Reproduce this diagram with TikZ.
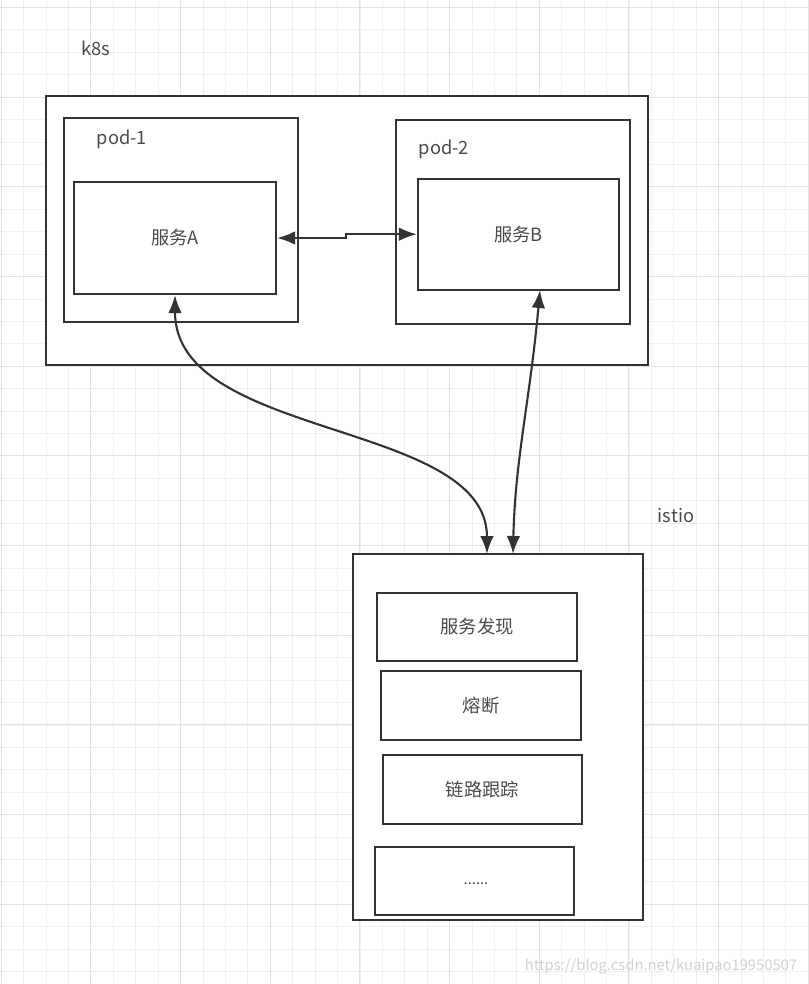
\documentclass[tikz,border=0pt]{standalone}
\usepackage{fontspec}
\setmainfont{Noto Sans CJK SC}
\usepackage{xcolor}
\usetikzlibrary{arrows.meta}

\definecolor{lineGray}{HTML}{333333}
\definecolor{textGray}{HTML}{4A4A4A}
\definecolor{gridMinor}{HTML}{F0F0F0}
\definecolor{gridMajor}{HTML}{E2E2E2}
\definecolor{markGray}{HTML}{D2D2D2}

\begin{document}
\begin{tikzpicture}[x=0.025cm, y=-0.025cm]
    	\tikzstyle{box}=[rectangle, draw=lineGray, line width=1.5pt, fill=white, inner sep=0pt]
    	\tikzstyle{label}=[text=textGray, font=\fontsize{13}{15}\selectfont]
    	\tikzstyle{link}=[draw=lineGray, line width=1.5pt, {Latex[length=4.5mm,width=3.4mm]}-{Latex[length=4.5mm,width=3.4mm]}]

    	\useasboundingbox (0,0) rectangle (808,984);
    	\fill[white] (0,0) rectangle (808,984);

    	% Grid
    	\foreach \i in {0,...,36}
    		\draw[gridMinor, line width=0.6pt] (1.2+\i*22.42, 0) -- (1.2+\i*22.42, 984);
    	\foreach \i in {0,...,44}
    		\draw[gridMinor, line width=0.6pt] (0, 7.5+\i*22.42) -- (808, 7.5+\i*22.42);
    	\foreach \i in {0,...,9}
    		\draw[gridMajor, line width=0.7pt] (1.2+\i*89.68, 0) -- (1.2+\i*89.68, 984);
    	\foreach \i in {0,...,10}
    		\draw[gridMajor, line width=0.7pt] (0, 7.5+\i*89.68) -- (808, 7.5+\i*89.68);

    	% k8s
    	\node[label] at (96, 48) (k8s_label) {k8s};
    	\node[box, minimum width=15.05cm, minimum height=6.725cm] at (347, 230.5) (k8s) {};

    	% pod 1
    	\node[box, minimum width=5.85cm, minimum height=5.1cm] at (181, 220) (pod_1) {};
    	\node[label] at (122, 139) (pod_1_label) {pod-1};
    	\node[box, label, minimum width=5.05cm, minimum height=2.8cm] at (175, 238) (service_a) {服务A};

    	% pod 2
    	\node[box, minimum width=5.85cm, minimum height=5.1cm] at (513, 222) (pod_2) {};
    	\node[label] at (444, 149) (pod_2_label) {pod-2};
    	\node[box, label, minimum width=5.025cm, minimum height=2.775cm] at (518.5, 234.5) (service_b) {服务B};

    	% istio
    	\node[label] at (676, 516) (istio_label) {istio};
    	\node[box, minimum width=7.25cm, minimum height=9.15cm] at (498, 737) (istio) {};
    	\node[box, label, minimum width=5.0cm, minimum height=1.7cm] at (477, 627) (discovery) {服务发现};
    	\node[box, label, minimum width=5.0cm, minimum height=1.725cm] at (481, 705.5) (breaker) {熔断};
    	\node[box, label, minimum width=4.975cm, minimum height=1.725cm] at (482.5, 789.5) (tracing) {链路跟踪};
    	\node[box, minimum width=4.975cm, minimum height=1.7cm] at (474.5, 881) (more) {};
    	\node[text=textGray, font=\fontsize{10.5}{12}\selectfont] at (476, 884) (more_text) {......};

    	% ports
    	\coordinate (b_out) at (540, 290);
    	\coordinate (istio_in_a) at (487, 554);
    	\coordinate (istio_in_b) at (513, 554);

		%----------------------------------------------------%
		%                  connect services                  %
		%----------------------------------------------------%
    	\draw[link] (service_a.east) -- ++(69,0) |- ([yshift=0.2pt]service_b.west);
    	\draw[link] (service_a.south) .. controls (175,440) and (487,420) .. (istio_in_a);
    	\draw[link] (b_out) .. controls (530,400) and (515,460) .. (istio_in_b);

    	% watermark
    	\node[text=markGray, font=\fontsize{10.5}{12}\selectfont] at (661, 966) (mark) {https://blog.csdn.net/kuaipao19950507};
\end{tikzpicture}
\end{document}
